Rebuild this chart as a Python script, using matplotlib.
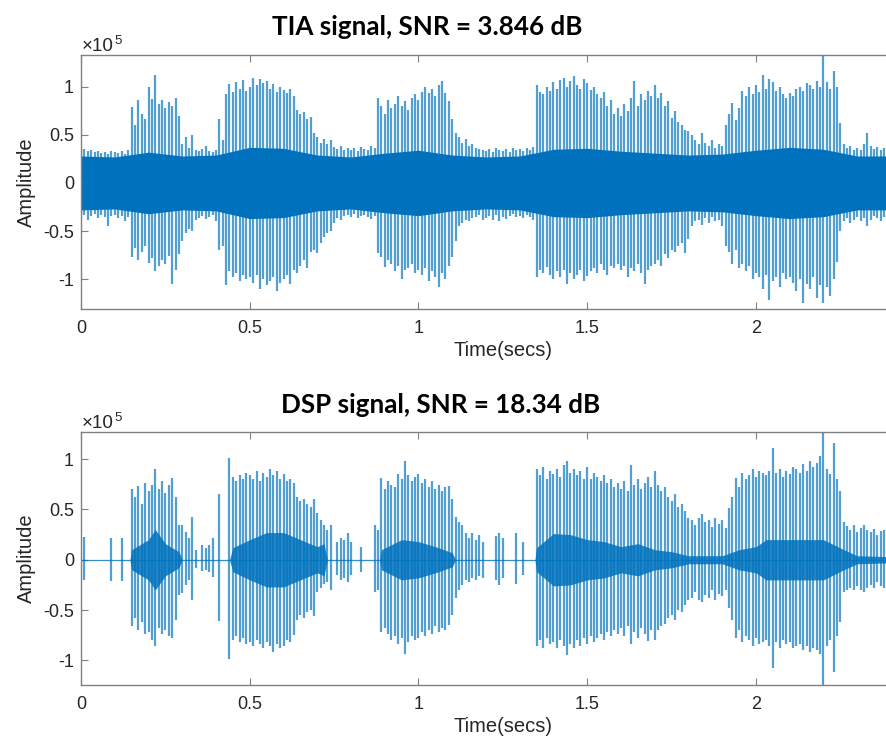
import numpy as np
import matplotlib.pyplot as plt
from matplotlib.ticker import FuncFormatter

plt.rcParams['font.family'] = ['Liberation Sans', 'DejaVu Sans']

# amplitudes in units of 1e5, peak values read every 10 ms
t_peak = np.round(np.arange(239) * 0.01, 2)

tia_upper = [
    0.37, 0.35, 0.33, 0.34, 0.32, 0.33, 0.31, 0.32, 0.30, 0.33,
    0.32, 0.31, 0.33, 0.30, 0.34, 0.79, 0.60, 0.86, 0.72, 0.66,
    1.00, 0.87, 1.12, 0.82, 0.86, 0.78, 0.84, 0.80, 0.88, 0.70,
    0.40, 0.48, 0.36, 0.50, 0.34, 0.33, 0.35, 0.38, 0.33, 0.32,
    0.34, 0.66, 0.45, 0.92, 1.03, 0.95, 1.05, 0.98, 1.07, 0.96,
    1.00, 1.09, 1.02, 1.08, 1.04, 1.06, 0.98, 1.03, 0.95, 1.00,
    0.97, 0.93, 0.98, 0.90, 0.76, 0.72, 0.74, 0.66, 0.69, 0.52,
    0.48, 0.42, 0.46, 0.40, 0.45, 0.37, 0.35, 0.38, 0.34, 0.36,
    0.34, 0.36, 0.33, 0.37, 0.35, 0.34, 0.38, 0.36, 0.88, 0.80,
    0.72, 0.86, 0.78, 0.82, 0.90, 0.80, 0.85, 0.76, 0.88, 0.92,
    0.86, 0.95, 1.00, 0.93, 0.98, 0.90, 1.02, 1.06, 0.94, 0.85,
    0.66, 0.52, 0.48, 0.42, 0.46, 0.38, 0.40, 0.36, 0.35, 0.34,
    0.33, 0.35, 0.32, 0.36, 0.34, 0.33, 0.35, 0.32, 0.36, 0.34,
    0.35, 0.33, 0.36, 0.34, 0.37, 1.02, 0.95, 0.92, 1.00, 0.96,
    1.05, 0.98, 1.07, 1.09, 1.00, 1.06, 1.11, 1.02, 0.98, 1.08,
    1.04, 0.97, 1.00, 0.92, 0.88, 0.95, 0.80, 0.86, 0.72, 0.78,
    0.70, 0.82, 0.75, 0.88, 1.06, 0.80, 0.92, 0.86, 0.96, 0.90,
    1.02, 0.88, 0.94, 0.80, 0.85, 0.68, 0.75, 0.63, 0.60, 0.55,
    0.54, 0.50, 0.45, 0.40, 0.52, 0.42, 0.38, 0.45, 0.36, 0.40,
    0.38, 0.60, 0.72, 0.83, 0.65, 0.78, 0.96, 0.90, 1.00, 0.92,
    1.02, 0.95, 1.12, 0.98, 1.08, 1.05, 0.96, 1.00, 0.92, 0.88,
    0.94, 0.90, 0.98, 1.00, 0.96, 1.04, 1.02, 0.98, 1.06, 1.00,
    1.32, 1.05, 0.98, 1.16, 1.00, 0.62, 0.40, 0.36, 0.38, 0.34,
    0.36, 0.34, 0.40, 0.52, 0.38, 0.35, 0.37, 0.34, 0.36,
]
tia_lower = [
    -0.35, -0.33, -0.38, -0.34, -0.32, -0.36, -0.33, -0.35, -0.45, -0.34,
    -0.33, -0.36, -0.34, -0.40, -0.35, -0.77, -0.68, -0.80, -0.72, -0.66,
    -0.83, -0.78, -0.92, -0.86, -0.80, -0.84, -0.76, -1.05, -0.90, -0.74,
    -0.60, -0.52, -0.48, -0.50, -0.38, -0.36, -0.34, -0.37, -0.35, -0.33,
    -0.40, -0.70, -0.66, -1.06, -0.92, -0.98, -0.94, -1.02, -0.96, -1.00,
    -0.98, -1.04, -0.96, -1.10, -1.00, -1.06, -1.02, -0.98, -1.12, -1.04,
    -1.00, -0.96, -1.05, -0.90, -0.94, -0.86, -0.80, -0.88, -0.72, -0.70,
    -0.73, -0.62, -0.56, -0.52, -0.50, -0.42, -0.36, -0.38, -0.34, -0.33,
    -0.35, -0.32, -0.36, -0.34, -0.33, -0.35, -0.37, -0.34, -0.73, -0.77,
    -0.87, -0.80, -0.84, -0.92, -0.86, -1.00, -0.90, -0.88, -0.84, -0.94,
    -0.90, -0.96, -0.88, -1.02, -0.92, -0.98, -1.08, -0.94, -1.00, -0.86,
    -0.77, -0.60, -0.45, -0.42, -0.38, -0.40, -0.36, -0.35, -0.33, -0.38,
    -0.36, -0.34, -0.38, -0.33, -0.40, -0.35, -0.37, -0.34, -0.32, -0.35,
    -0.34, -0.36, -0.33, -0.35, -0.38, -0.98, -0.90, -0.94, -0.87, -0.96,
    -1.00, -0.92, -0.98, -0.90, -1.05, -0.94, -1.00, -0.96, -0.90, -1.02,
    -0.97, -0.92, -0.88, -0.94, -0.84, -0.90, -0.96, -0.86, -0.88, -0.84,
    -0.90, -0.86, -0.98, -0.88, -0.92, -0.84, -0.94, -1.05, -0.90, -0.86,
    -0.84, -0.80, -0.86, -0.74, -0.78, -0.70, -0.72, -0.66, -0.62, -0.73,
    -0.58, -0.45, -0.40, -0.38, -0.44, -0.36, -0.42, -0.35, -0.40, -0.38,
    -0.45, -0.66, -0.72, -0.84, -0.70, -0.88, -0.84, -0.92, -0.86, -1.00,
    -0.94, -0.98, -1.10, -0.96, -1.22, -1.02, -0.98, -1.08, -0.94, -1.00,
    -0.98, -1.04, -1.12, -1.00, -1.25, -1.05, -1.10, -0.98, -1.20, -1.06,
    -1.25, -1.08, -1.18, -1.00, -0.82, -0.50, -0.40, -0.36, -0.42, -0.38,
    -0.35, -0.40, -0.36, -0.45, -0.38, -0.34, -0.36, -0.40, -0.35,
]
# half width of the solid noise band, every 100 ms
t_tia_core = np.round(np.arange(25) * 0.1, 2)
tia_core = [0.28, 0.27, 0.32, 0.28, 0.29, 0.37, 0.36, 0.29, 0.27, 0.31,
            0.34, 0.29, 0.27, 0.28, 0.35, 0.36, 0.33, 0.31, 0.29, 0.30,
            0.34, 0.37, 0.35, 0.28, 0.28]

dsp_upper = [
    0, 0.23, 0, 0, 0, 0, 0, 0, 0, 0.22,
    0, 0, 0.22, 0, 0, 0.70, 0.62, 0.73, 0.55, 0.76,
    0.68, 0.74, 0.90, 0.70, 0.78, 0.66, 0.74, 0.81, 0.62, 0.35,
    0.35, 0.28, 0.22, 0.43, 0.10, 0, 0.15, 0.12, 0.15, 0.22,
    0, 0.65, 0, 0, 1.01, 0.82, 0.78, 0.84, 0.80, 0.86,
    0.84, 0.80, 0.88, 0.78, 0.86, 0.82, 0.90, 0.84, 0.88, 0.80,
    0.85, 0.78, 0.80, 0.76, 0.62, 0.58, 0.60, 0.55, 0.52, 0.60,
    0.46, 0.40, 0.35, 0.30, 0.35, 0, 0.18, 0.22, 0.20, 0.27,
    0.18, 0, 0, 0.13, 0, 0, 0, 0.35, 0.30, 0.81,
    0.70, 0.78, 0.74, 0.72, 0.85, 0.80, 0.98, 0.84, 0.78, 0.82,
    0.85, 0.76, 0.80, 0.72, 0.78, 0.70, 0.74, 0.68, 0.72, 0.73,
    0.60, 0.43, 0.38, 0.35, 0.27, 0.22, 0.27, 0.20, 0.25, 0.18,
    0, 0, 0, 0.24, 0.27, 0.22, 0, 0, 0, 0.27,
    0, 0.18, 0, 0, 0, 0.90, 0.84, 0.92, 0.80, 0.88,
    0.85, 0.90, 0.82, 0.94, 0.98, 0.86, 0.90, 0.84, 0.88, 0.80,
    0.92, 0.80, 0.86, 0.82, 0.78, 0.84, 0.76, 0.80, 0.72, 0.76,
    0.70, 0.78, 0.68, 0.94, 0.74, 0.80, 0.70, 0.76, 0.82, 0.72,
    0.88, 0.74, 0.68, 0.72, 0.62, 0.58, 0.65, 0.52, 0.55, 0.48,
    0.42, 0.40, 0.35, 0.42, 0.45, 0.38, 0.40, 0.33, 0.42, 0.36,
    0.40, 0.32, 0.51, 0.62, 0.81, 0.72, 0.86, 0.80, 0.84, 0.90,
    0.82, 0.88, 0.86, 0.84, 0.88, 1.11, 0.86, 0.90, 0.82, 0.88,
    0.85, 0.92, 0.90, 0.86, 0.95, 0.88, 0.98, 0.92, 0.96, 1.03,
    1.35, 0.90, 0.85, 1.16, 0.80, 0.68, 0.38, 0.34, 0.30, 0.35,
    0.28, 0.32, 0.35, 0.30, 0.28, 0.31, 0.25, 0.29, 0.30,
]
dsp_lower = [
    0, -0.20, 0, 0, 0, 0, 0, 0, 0, -0.21,
    0, 0, -0.21, 0, 0, -0.66, -0.58, -0.70, -0.62, -0.74,
    -0.72, -0.80, -0.86, -0.68, -0.74, -0.70, -0.76, -0.78, -0.60, -0.35,
    -0.33, -0.25, -0.20, -0.40, -0.08, 0, -0.11, -0.10, -0.12, -0.17,
    0, -0.61, 0, 0, -0.99, -0.80, -0.76, -0.82, -0.78, -0.84,
    -0.82, -0.86, -0.80, -0.84, -0.88, -0.82, -0.86, -0.92, -0.84, -0.88,
    -0.86, -0.80, -0.82, -0.75, -0.60, -0.55, -0.58, -0.52, -0.50, -0.56,
    -0.32, -0.28, -0.24, -0.22, -0.30, 0, -0.15, -0.20, -0.18, -0.22,
    -0.15, 0, 0, -0.12, 0, 0, 0, -0.32, -0.30, -0.72,
    -0.68, -0.74, -0.80, -0.76, -0.84, -0.78, -0.94, -0.82, -0.76, -0.80,
    -0.78, -0.72, -0.76, -0.70, -0.74, -0.66, -0.72, -0.68, -0.70, -0.65,
    -0.55, -0.38, -0.30, -0.25, -0.20, -0.22, -0.18, -0.20, -0.16, -0.18,
    0, 0, 0, -0.20, -0.25, -0.18, 0, 0, 0, -0.24,
    0, -0.15, 0, 0, 0, -0.86, -0.80, -0.88, -0.78, -0.84,
    -0.82, -0.88, -0.80, -0.86, -0.95, -0.84, -0.88, -0.80, -0.86, -0.78,
    -0.84, -0.76, -0.82, -0.78, -0.74, -0.80, -0.72, -0.76, -0.70, -0.74,
    -0.68, -0.76, -0.66, -0.84, -0.72, -0.78, -0.68, -0.74, -0.81, -0.70,
    -0.80, -0.70, -0.66, -0.64, -0.58, -0.55, -0.60, -0.50, -0.52, -0.45,
    -0.40, -0.38, -0.32, -0.40, -0.42, -0.35, -0.38, -0.30, -0.40, -0.34,
    -0.36, -0.30, -0.48, -0.60, -0.78, -0.70, -0.82, -0.76, -0.80, -0.86,
    -0.78, -0.84, -0.82, -0.80, -0.86, -1.08, -0.82, -0.88, -0.80, -0.84,
    -0.82, -0.88, -0.86, -0.84, -0.90, -0.86, -0.92, -0.88, -0.90, -0.94,
    -1.30, -0.86, -0.80, -1.12, -0.76, -0.62, -0.32, -0.30, -0.28, -0.30,
    -0.26, -0.30, -0.32, -0.28, -0.25, -0.28, -0.22, -0.26, -0.28,
]
# dense centre of the cleaned signal (time, half width)
t_dsp_core = [0, 0.145, 0.15, 0.20, 0.22, 0.25, 0.29, 0.30, 0.44, 0.45,
              0.50, 0.55, 0.60, 0.65, 0.70, 0.72, 0.73, 0.885, 0.89, 0.95,
              1.00, 1.05, 1.10, 1.11, 1.345, 1.35, 1.40, 1.45, 1.50, 1.55,
              1.60, 1.65, 1.70, 1.75, 1.80, 1.90, 1.95, 2.00, 2.03, 2.10,
              2.20, 2.26, 2.30, 2.40]
dsp_core = [0, 0, 0.10, 0.20, 0.30, 0.16, 0.08, 0, 0, 0.12,
            0.20, 0.27, 0.27, 0.20, 0.13, 0.16, 0, 0, 0.10, 0.20,
            0.18, 0.13, 0.07, 0, 0, 0.12, 0.26, 0.25, 0.20, 0.18,
            0.13, 0.16, 0.10, 0.08, 0.04, 0.04, 0.10, 0.13, 0.20, 0.20,
            0.20, 0.10, 0.04, 0.03]

titles = ['TIA signal, SNR = 3.846 dB', 'DSP signal, SNR = 18.34 dB']
BLUE = '#0072BD'
GREY = '#808080'


def draw_wave(ax, upper, lower, t_core, core, core_alpha):
    core = np.array(core)
    ax.fill_between(t_core, -core, core, color=BLUE, lw=0, alpha=core_alpha)
    ax.vlines(t_peak, lower, upper, color=BLUE, lw=1.6, alpha=0.68)
    ax.axhline(0, color=BLUE, lw=0.9, alpha=0.8)


def style_axes(ax, ylim):
    ax.set_xlim(0, 2.5)
    ax.set_ylim(*ylim)
    ax.set_xticks([0, 0.5, 1, 1.5, 2])
    ax.set_yticks([-1, -0.5, 0, 0.5, 1])
    fmt = FuncFormatter(lambda v, p: '%g' % v)
    ax.xaxis.set_major_formatter(fmt)
    ax.yaxis.set_major_formatter(fmt)
    ax.tick_params(direction='in', length=5, width=0.8, color=GREY,
                   labelsize=13, labelcolor='#262626', top=True, right=False)
    ax.tick_params(axis='x', pad=8)
    ax.tick_params(axis='y', pad=5)
    ax.spines['right'].set_visible(False)
    for s in ['left', 'top', 'bottom']:
        ax.spines[s].set_color(GREY)
        ax.spines[s].set_linewidth(1.0)
    ax.set_xlabel('Time(secs)', fontsize=14.5, color='#262626', labelpad=3)
    ax.set_ylabel('Amplitude', fontsize=14.5, color='#262626', labelpad=5)


W, H = 887, 740
fig = plt.figure(figsize=(W / 100, H / 100), dpi=100)
ax1 = fig.add_axes([81 / W, 1 - 309 / H, 2.5 * 337.5 / W, 254 / H])
ax2 = fig.add_axes([81 / W, 1 - 685 / H, 2.5 * 337.5 / W, 253 / H])

draw_wave(ax1, tia_upper, tia_lower, t_tia_core, tia_core, 1.0)
draw_wave(ax2, dsp_upper, dsp_lower, t_dsp_core, dsp_core, 0.85)
style_axes(ax1, (-1.31, 1.33))
style_axes(ax2, (-1.245, 1.27))

# titles and the x10^5 exponent labels
fig.text(427 / W, 1 - 35 / H, titles[0], fontsize=18.7, fontweight='bold',
         family=['Lato', 'DejaVu Sans'], ha='center', va='baseline')
fig.text(441 / W, 1 - 413 / H, titles[1], fontsize=18.7, fontweight='bold',
         family=['Lato', 'DejaVu Sans'], ha='center', va='baseline')
for base in [51, 428]:
    fig.text(82 / W, 1 - base / H, '\u00d710', fontsize=13.5, color='#262626',
             va='baseline')
    fig.text(114 / W, 1 - (base - 7) / H, '5', fontsize=9.5, color='#262626',
             va='baseline')

fig.savefig('out.png', dpi=100)
